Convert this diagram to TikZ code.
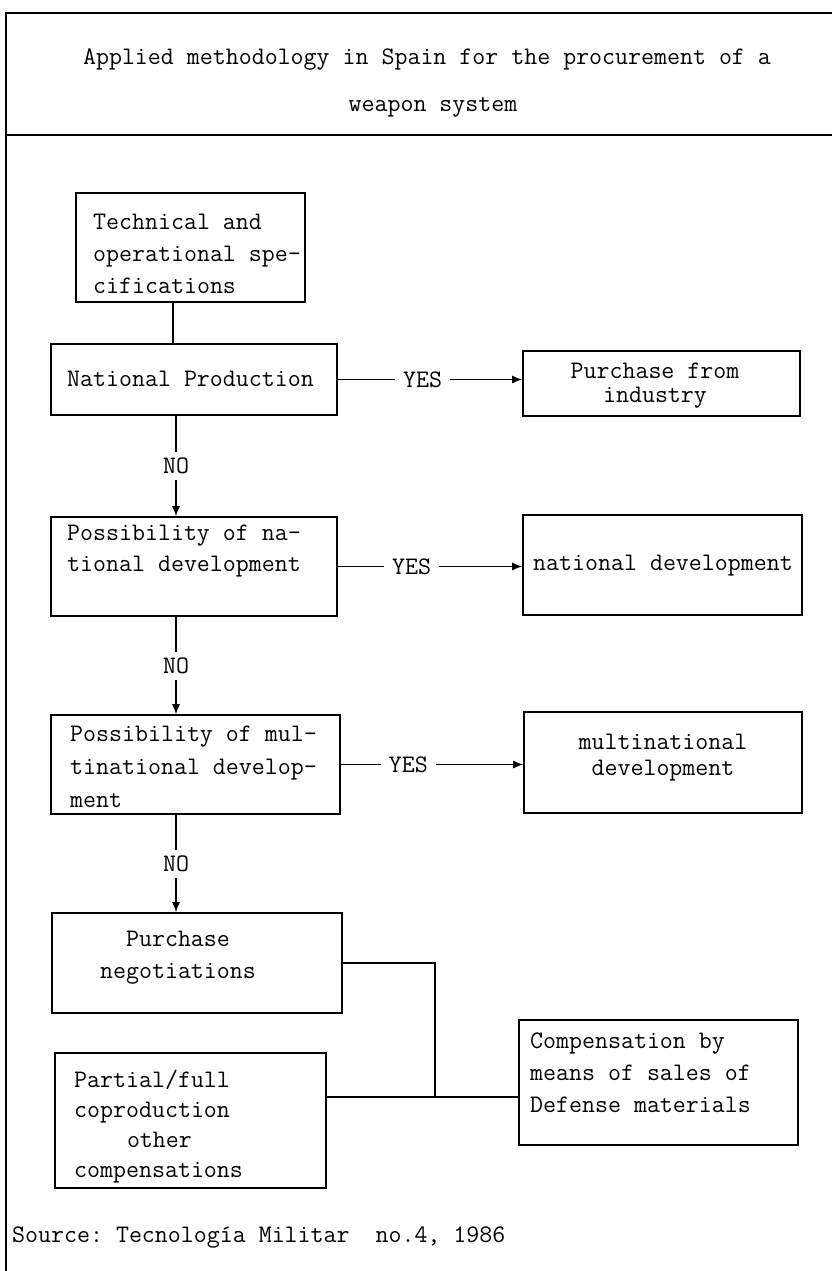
\documentclass[tikz,border=0pt]{standalone}
\usepackage{fontspec}
\usetikzlibrary{arrows.meta}
\frenchspacing
\newcommand\twfont[1]{\ttfamily\fontsize{25.2}{#1}\selectfont\addfontfeatures{FakeBold=1.5}}
\begin{document}
\begin{tikzpicture}[x=1pt,y=-1pt,
  every node/.style={font=\twfont{32}},
  boxnode/.style={draw, line width=1.6pt, inner sep=0pt, minimum width=#1},
  txt/.style={inner sep=0pt, anchor=west, align=left},
  ctxt/.style={inner sep=0pt, align=center},
  frameline/.style={line width=1.7pt},
  conn/.style={line width=1.3pt},
  arr/.style={line width=1.3pt, -{Latex[length=10pt,width=8pt]}},
  lbl/.style={fill=white, inner xsep=8pt, inner ysep=6pt}
]
\useasboundingbox (0,0) rectangle (832,1271);
% frame
\draw[frameline] (5,13) -- (832,13);
\draw[frameline] (6,13) -- (6,1271);
\draw[frameline] (6,135) -- (832,135);
% title
\node[ctxt] (title1) at (427,60) {Applied methodology in Spain for the procurement of a};
\node[ctxt] (title2) at (433,107) {weapon system};
% boxes
\node[boxnode=229pt, minimum height=109pt] (tech) at (190.5,247.5) {};
\node[boxnode=286pt, minimum height=71pt] (natprod) at (194,379.5) {};
\node[boxnode=277pt, minimum height=65pt] (buy) at (661.5,383.5) {};
\node[boxnode=286pt, minimum height=99pt] (pnat) at (194,566.5) {};
\node[boxnode=279pt, minimum height=100pt] (natdev) at (662.5,565) {};
\node[boxnode=289pt, minimum height=99pt] (pmul) at (195.5,764.5) {};
\node[boxnode=278pt, minimum height=101pt] (muldev) at (663,762.5) {};
\node[boxnode=290pt, minimum height=100pt] (purneg) at (197,963) {};
\node[boxnode=271pt, minimum height=135pt] (partial) at (190.5,1120.5) {};
\node[boxnode=279pt, minimum height=125pt] (comp) at (658.5,1082.5) {};
% texts
\node[txt] (techT) at (93,254) {Technical and\\operational spe-\\cifications};
\node[txt] (natprodT) at (67,379) {National Production};
\node[ctxt, font=\twfont{24}] (buyT) at (655,386) {Purchase from\\industry};
\node[txt, font=\twfont{31}] (pnatT) at (67,551) {Possibility of na-\\tional development};
\node[ctxt] (natdevT) at (663,566) {national development};
\node[txt, font=\twfont{33}] (pmulT) at (70,767) {Possibility of mul-\\tinational develop-\\ment};
\node[ctxt, font=\twfont{26}] (muldevT) at (663,758) {multinational\\development};
\node[ctxt] (purnegT) at (178,958) {Purchase\\negotiations};
\node[txt, font=\twfont{30}] (partialT) at (74,1127) {Partial/full\\coproduction\\\hspace*{52.8pt}other\\compensations};
\node[txt] (compT) at (530,1073) {Compensation by\\means of sales of\\Defense materials};
\node[txt] (src) at (12,1237) {Source: Tecnología Militar\ \ no.4, 1986};
% columns
\coordinate (colA) at (173,0);
\coordinate (colB) at (176,0);
\coordinate (j) at (435,1097);
% connectors
\draw[conn] (tech.south -| colA) -- (natprod.north -| colA);
\draw[arr] (natprod.south -| colB) -- node[lbl]{NO} (pnat.north -| colB);
\draw[arr] (pnat.south -| colB) -- node[lbl]{NO} (pmul.north -| colB);
\draw[arr] (pmul.south -| colB) -- node[lbl]{NO} (purneg.north -| colB);
\draw[arr] (natprod.east) -- node[lbl, pos=0.46]{YES} (natprod.east -| buy.west);
\draw[arr] (pnat.east) -- node[lbl, pos=0.40]{YES} (pnat.east -| natdev.west);
\draw[arr] (pmul.east) -- node[lbl, pos=0.37]{YES} (pmul.east -| muldev.west);
\draw[conn] (purneg.east) -| (j);
\draw[conn] (partial.east |- j) -- (comp.west |- j);
\end{tikzpicture}
\end{document}
